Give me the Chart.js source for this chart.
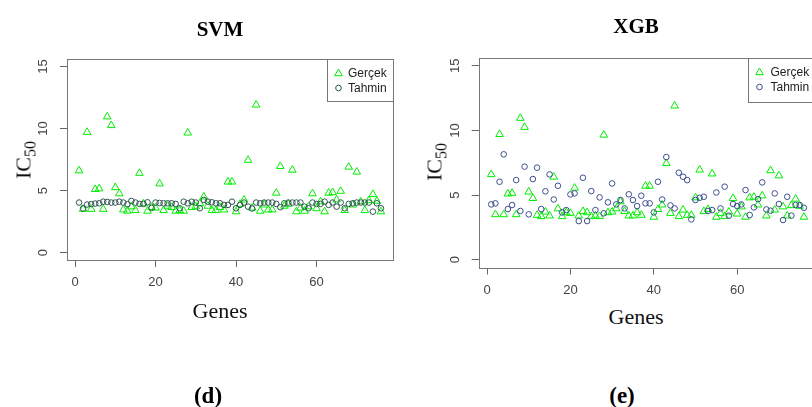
<!DOCTYPE html>
<html>
<head>
<meta charset="utf-8">
<script src="https://cdn.jsdelivr.net/npm/chart.js@4.4.1/dist/chart.umd.min.js"></script>
<style>
  html, body { margin: 0; padding: 0; background: #fff; }
  body { width: 812px; height: 407px; position: relative; overflow: hidden; }
  canvas { position: absolute; top: 0; }
  .lbl { position: absolute; transform: translate(-50%, -50%); white-space: nowrap; line-height: 1; color: #000; }
  .title { font: bold 21px "Liberation Serif", serif; }
  .panel { font: bold 23px "Liberation Serif", serif; }
  .axis { font: 22px "Liberation Serif", serif; color: #111; }
  .ylab { font: 22px "Liberation Serif", serif; color: #111; transform: translate(-50%, -50%) rotate(-90deg); }
  .ylab sub { font-size: 16px; vertical-align: -5px; }
</style>
</head>
<body>
<canvas id="svm" width="406" height="300" style="left:0px"></canvas>
<canvas id="xgb" width="420" height="300" style="left:406px"></canvas>

<div class="lbl title" style="left:220px; top:29px">SVM</div>
<div class="lbl title" style="left:636px; top:26px">XGB</div>
<div class="lbl axis" style="left:220px; top:311px">Genes</div>
<div class="lbl axis" style="left:636px; top:317px">Genes</div>
<div class="lbl ylab" style="left:25px; top:160px">IC<sub>50</sub></div>
<div class="lbl ylab" style="left:436px; top:162px">IC<sub>50</sub></div>
<div class="lbl panel" style="left:208px; top:396px">(d)</div>
<div class="lbl panel" style="left:622px; top:396px">(e)</div>

<script>
// Gene index on the x axis
const genes = Array.from({ length: 76 }, (_, i) => i + 1);

// Measured IC50 values (shared by both panels)
const gercek = [
  6.6, 3.5, 9.7, 3.5, 5.1, 5.15, 3.5, 10.95, 10.25, 5.25,
  4.75, 3.45, 3.35, 3.7, 3.4, 6.4, 3.95, 3.35, 3.65, 3.6,
  5.55, 3.4, 3.75, 3.65, 3.35, 3.4, 3.35, 9.65, 3.65, 3.7,
  3.95, 4.5, 3.75, 3.4, 3.4, 3.65, 3.45, 5.7, 5.7, 3.3,
  3.9, 4.25, 7.45, 3.6, 11.9, 3.35, 3.85, 3.45, 3.45, 4.8,
  6.95, 3.75, 3.9, 6.65, 3.3, 3.6, 3.35, 3.7, 4.75, 3.55,
  4.1, 3.3, 4.8, 4.85, 4.25, 4.95, 3.4, 6.9, 3.85, 6.5,
  4.1, 3.4, 4.2, 4.7, 4.15, 3.3
];

// SVM predictions
const svmTahmin = [
  4.03, 3.55, 3.87, 3.9, 3.95, 3.97, 4.1, 4.08, 4.03, 4.03,
  4.1, 4.03, 3.9, 4.16, 4.03, 3.92, 3.92, 4.05, 3.6, 4.03,
  4.0, 3.97, 3.97, 3.97, 3.92, 3.57, 4.1, 3.97, 4.1, 4.03,
  3.57, 4.24, 4.1, 4.05, 3.97, 3.97, 3.84, 3.84, 4.1, 3.57,
  3.84, 4.03, 3.7, 3.55, 4.03, 3.97, 4.03, 4.03, 4.03, 3.92,
  3.65, 3.97, 4.03, 4.03, 4.03, 4.03, 3.7, 3.57, 4.03, 3.92,
  3.92, 4.1, 3.84, 4.03, 3.7, 4.03, 3.57, 3.92, 3.97, 4.03,
  4.03, 4.03, 4.03, 3.3, 3.97, 3.57
];

// XGBoost predictions
const xgbTahmin = [
  4.28, 4.36, 6.03, 8.15, 3.92, 4.23, 6.16, 3.77, 7.2, 3.51,
  6.24, 7.12, 3.92, 5.29, 6.6, 4.66, 5.72, 3.66, 3.84, 5.05,
  5.13, 2.99, 6.34, 2.99, 5.31, 3.84, 4.82, 3.59, 4.44, 5.9,
  4.28, 4.62, 3.97, 5.06, 4.62, 4.15, 4.95, 4.36, 4.36, 3.66,
  6.03, 4.66, 7.94, 4.2, 3.97, 6.73, 6.42, 6.16, 3.12, 4.62,
  4.79, 4.87, 3.77, 3.84, 5.2, 3.97, 5.65, 3.41, 4.31, 4.15,
  4.28, 5.39, 3.46, 4.05, 4.69, 5.98, 3.89, 3.79, 5.13, 4.31,
  3.07, 4.87, 3.41, 4.23, 4.23, 4.02
];

// Axis ticks
const xTicks = [0, 20, 40, 60];
const yTicks = [0, 5, 10, 15];

const seriesNames = ['Gerçek', 'Tahmin'];

// Box around the plot region plus an R-style legend in the top-right corner
const framePlugin = {
  id: 'frame',
  afterDatasetsDraw(chart, args, opts) {
    const { ctx, chartArea: a } = chart;
    ctx.save();
    ctx.strokeStyle = '#777';
    ctx.lineWidth = 1;
    ctx.strokeRect(Math.round(a.left) + 0.5, Math.round(a.top) + 0.5,
                   Math.round(a.right - a.left), Math.round(a.bottom - a.top));

    const lx = Math.round(a.right - opts.width) + 0.5;
    const ly = Math.round(a.top) + 0.5;
    ctx.fillStyle = '#fff';
    ctx.fillRect(lx, ly, opts.width, opts.height);
    ctx.strokeRect(lx, ly, opts.width, opts.height);

    const entries = [chart.data.datasets[1], chart.data.datasets[0]];
    entries.forEach((ds, i) => {
      const y = ly + 14 + i * 14.5;
      ctx.fillStyle = 'rgba(0,0,0,0)';
      ctx.strokeStyle = ds.borderColor;
      ctx.lineWidth = 1;
      Chart.helpers.drawPoint(ctx, { pointStyle: ds.pointStyle, radius: ds.pointRadius, borderWidth: 1, rotation: 0 }, lx + 11, y);
      ctx.fillStyle = '#222';
      ctx.font = '12px "Liberation Sans", Arial, sans-serif';
      ctx.textBaseline = 'middle';
      ctx.textAlign = 'left';
      ctx.fillText(ds.label, lx + opts.textOffset, y + 0.5);
    });
    ctx.restore();
  }
};

const tickFont = { family: '"Liberation Sans Narrow", "Arial Narrow", "Liberation Sans", sans-serif', size: 13 };

function makeChart(id, pred, predColor, geo) {
  return new Chart(document.getElementById(id), {
    type: 'scatter',
    data: {
      datasets: [
        {
          label: seriesNames[1], order: 0,
          data: genes.map((g, i) => ({ x: g, y: pred[i] })),
          pointStyle: 'circle', pointRadius: 2.8, borderWidth: 1,
          borderColor: predColor, backgroundColor: 'rgba(0,0,0,0)'
        },
        {
          label: seriesNames[0], order: 1,
          data: genes.map((g, i) => ({ x: g, y: gercek[i] })),
          pointStyle: 'triangle', pointRadius: 4.4, borderWidth: 1,
          borderColor: '#00ee00', backgroundColor: 'rgba(0,0,0,0)'
        }
      ]
    },
    options: {
      responsive: false,
      animation: false,
      devicePixelRatio: 1,
      layout: { padding: { left: 0, top: geo.top, right: geo.right, bottom: 0 } },
      plugins: {
        legend: { display: false },
        tooltip: { enabled: false },
        frame: { width: geo.legW, height: geo.legH, textOffset: geo.legText }
      },
      scales: {
        x: {
          type: 'linear', min: -2, max: 79,
          afterBuildTicks: s => { s.ticks = xTicks.map(v => ({ value: v })); },
          afterFit: s => { s.height = geo.xh; },
          grid: { drawOnChartArea: false, drawTicks: true, tickLength: 7, color: '#666' },
          border: { display: false },
          ticks: { font: tickFont, color: '#444', padding: 8, minRotation: 0, maxRotation: 0 }
        },
        y: {
          type: 'linear', min: -0.6, max: 15.6,
          afterBuildTicks: s => { s.ticks = yTicks.map(v => ({ value: v })); },
          afterFit: s => { s.width = geo.yw; },
          grid: { drawOnChartArea: false, drawTicks: true, tickLength: 7, color: '#666' },
          border: { display: false },
          ticks: { font: tickFont, color: '#444', padding: 9, minRotation: 90, maxRotation: 90, crossAlign: 'center' }
        }
      }
    },
    plugins: [framePlugin]
  });
}

makeChart('svm', svmTahmin, '#2f5550', { top: 59, right: 13, xh: 40, yw: 67, legW: 66, legH: 42, legText: 20.5 });
makeChart('xgb', xgbTahmin, '#3c4e8e', { top: 58, right: 9.6, xh: 32.5, yw: 72.7, legW: 68.4, legH: 44, legText: 22 });
</script>
</body>
</html>
